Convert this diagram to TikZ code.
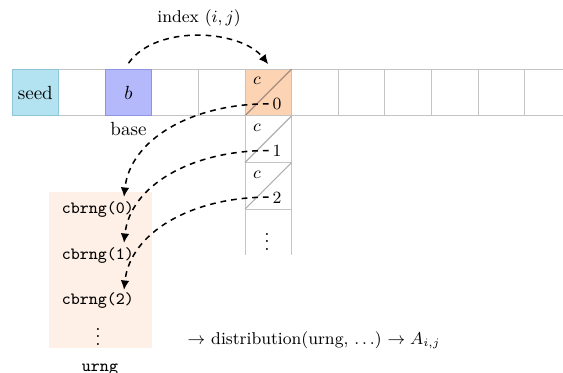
\documentclass[tikz,border=0pt]{standalone}
\usetikzlibrary{arrows.meta,calc}
\definecolor{seedfill}{HTML}{B3E3F1}
\definecolor{seeddraw}{HTML}{8EC6D8}
\definecolor{basefill}{HTML}{B3B9FA}
\definecolor{basedraw}{HTML}{8E94E4}
\definecolor{ctrfill}{HTML}{FCD4B4}
\definecolor{ctrdiag}{HTML}{A88C7C}
\definecolor{gridc}{HTML}{C4C4C4}
\definecolor{diagc}{HTML}{B0B0B0}
\definecolor{urngfill}{HTML}{FEF0E6}
\begin{document}
\begin{tikzpicture}[x=0.525pt,y=-0.525pt,
  cell/.style={draw=gridc,line width=0.5pt,minimum width=24.47pt,minimum height=24.47pt,inner sep=0pt,outer sep=0pt},
  plaincell/.style={inner sep=0pt,outer sep=0pt,minimum width=24.47pt,minimum height=24.47pt},
  diag/.style={draw=diagc,line width=0.6pt},
  small/.style={font=\small,inner sep=0pt},
  flow/.style={dash pattern=on 3pt off 2.6pt,line width=0.8pt,-{Latex[length=5pt,width=4.5pt]}},
  lab/.style={inner sep=0pt},
  code/.style={inner sep=0pt,font=\small\ttfamily}]
\useasboundingbox (0,0) rectangle (563,372);
% urng box
\node[fill=urngfill,inner sep=0pt,minimum width=54.1pt,minimum height=81.9pt] (urng) at (100.5,270) {};
% top row
\foreach \k/\nm in {0/seed,1/r1,2/b,3/r3,4/r4,5/c0,6/r6,7/r7,8/r8,9/r9,10/r10,11/r11}
  \node[cell] (\nm) at ({35.3+46.6*\k},92.5) {};
\node[cell,fill=seedfill,draw=seeddraw] (seedc) at (seed) {seed};
\node[cell,fill=basefill,draw=basedraw] (bc) at (b) {$b$};
\node[cell,fill=ctrfill] (c0f) at (c0) {};
\draw[draw=ctrdiag,line width=0.6pt] (c0f.south west) -- (c0f.north east);
% column
\node[cell] (c1) at (268.3,139.2) {};
\node[cell] (c2) at (268.3,185.8) {};
\draw[diag] (c1.south west) -- (c1.north east);
\draw[diag] (c2.south west) -- (c2.north east);
\node[plaincell] (c3) at (268.3,232.1) {};
\node[lab] (c3dots) at (267,236) {$\vdots$};
\draw[draw=gridc,line width=0.5pt] (c3.north west) -- (c3.south west) (c3.north east) -- (c3.south east);
% labels in cells
\foreach \c/\n in {c0f/0,c1/1,c2/2}{
  \node[small] (l\c) at ($(\c.north west)+(12,12)$) {$c$};
  \node[small] (n\c) at ($(\c.north west)+(32,35)$) {$\n$};
}
% texts
\node[lab] (base) at (128.5,129) {base};
\node[lab,font=\small] (index) at (199,18) {index $(i,j)$};
\node[code] (u0) at (98,210) {cbrng(0)};
\node[code] (u1) at (98,255.5) {cbrng(1)};
\node[code] (u2) at (98,301) {cbrng(2)};
\node[lab] (u3) at (98,331) {$\vdots$};
\node[code,anchor=base] (urnglab) at (100,371) {urng};
\node[lab,font=\small] (dist) at (314,340) {$\rightarrow$ distribution(urng, $\ldots$) $\rightarrow A_{i,j}$};
% connectors
\coordinate (bs) at ($(bc.north)+(0,-6)$);
\coordinate (ce) at ($(c0f.north)+(0,-5)$);
\draw[flow] (bs) .. controls +(27,-39) and +(-28,-35) .. (ce);
\coordinate (s0) at ($(c0f.south east)+(-23,-12)$);
\coordinate (s1) at ($(c1.south east)+(-23,-12)$);
\coordinate (s2) at ($(c2.south east)+(-23,-12)$);
\coordinate (t0) at (124,197);
\coordinate (t1) at (124,243);
\coordinate (t2) at (124,290);
\draw[flow] (s0) .. controls +(-78,0) and +(6,-57) .. (t0);
\draw[flow] (s1) .. controls +(-78,0) and +(6,-57) .. (t1);
\draw[flow] (s2) .. controls +(-78,0) and +(6,-57) .. (t2);
\end{tikzpicture}
\end{document}
